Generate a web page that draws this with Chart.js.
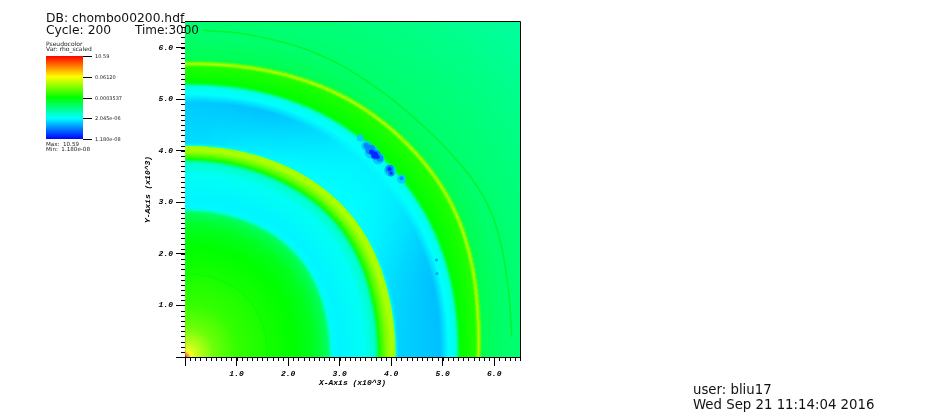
<!DOCTYPE html>
<html>
<head>
<meta charset="utf-8">
<title>chombo00200</title>
<script src="https://cdn.jsdelivr.net/npm/chart.js@4"></script>
<style>
    html, body { margin: 0; padding: 0; background: #fff; }
    #wrap { position: relative; width: 925px; height: 420px; overflow: hidden; }
</style>
</head>
<body>
<div id="wrap"><canvas id="chart" width="925" height="420"></canvas></div>
<script>
// All field values are positions on the legend bar: 0 = min (blue), 1 = max (red)
const axisMax = 6.5;
const legendLabels = ['10.59', '0.06120', '0.0003537', '2.045e-06', '1.180e-08'];

// Fronts, radius (x10^3) at each polar angle
const angles      = [0, 15, 24, 34, 45, 56, 66, 75, 90];
const discEdge    = [2.82, 2.84, 2.89, 2.93, 2.96, 2.93, 2.90, 2.87, 2.85];
const bandInner   = [3.72, 3.75, 3.82, 3.88, 3.92, 3.88, 3.85, 3.82, 3.80];
const bandOuter   = [4.07, 4.10, 4.16, 4.22, 4.25, 4.21, 4.17, 4.12, 4.08];
const shellInner  = [5.28, 5.34, 5.40, 5.43, 5.44, 5.43, 5.39, 5.33, 5.27];
const shellYellow = [5.67, 5.79, 5.93, 5.99, 5.97, 5.94, 5.86, 5.76, 5.67];
const cavityNear  = [0.205, 0.21, 0.22, 0.25, 0.25, 0.25, 0.24, 0.23, 0.21];
const cavityFar   = [0.19, 0.185, 0.19, 0.235, 0.24, 0.235, 0.19, 0.19, 0.20];

// Inner disc profile: fraction of discEdge, value
const discRadius = [0, 0.012, 0.04, 0.09, 0.2, 0.36, 0.555, 0.565, 0.575, 0.75, 0.88, 0.95, 0.985, 1, 1.018];
const discValue  = [0.98, 0.92, 0.74, 0.68, 0.6, 0.55, 0.525, 0.505, 0.52, 0.5, 0.47, 0.43, 0.4, 0.3, 0.245];

// Faint outer ring
const ringX = [6.34, 6.27, 6.08, 5.79, 5.27, 4.49, 3.59, 2.55, 1.26, 0.35];
const ringY = [0.39, 1.36, 2.39, 3.11, 3.82, 4.60, 5.31, 5.89, 6.25, 6.34];

// Turbulent low density patches, pale halo first, dark core last
const patchX     = [3.40, 3.52, 3.62, 3.75, 3.98, 4.20, 3.52, 3.60, 3.70, 3.78, 3.97, 4.00, 4.20, 3.62, 3.68, 3.74, 3.97, 4.00, 4.88, 4.89];
const patchY     = [4.25, 4.10, 3.98, 3.85, 3.62, 3.45, 4.10, 4.02, 3.92, 3.85, 3.65, 3.56, 3.47, 3.98, 3.92, 3.88, 3.65, 3.57, 1.88, 1.62];
const patchValue = [0.20, 0.20, 0.20, 0.20, 0.20, 0.20, 0.13, 0.13, 0.13, 0.13, 0.13, 0.13, 0.13, 0.04, 0.04, 0.04, 0.04, 0.04, 0.15, 0.16];
const patchSize  = [3.5, 5, 7, 6, 6, 4.5, 3, 5, 5, 3.5, 4, 3, 2, 2.5, 3.5, 2, 2, 1.5, 1.5, 1.5];

// blue - cyan - green - yellow - red
function valueColor(t) {
    const c = [[0, 0, 255], [0, 255, 255], [0, 255, 0], [255, 255, 0], [255, 0, 0]];
    const p = Math.min(Math.max(t, 0), 1) * 4;
    const i = Math.min(Math.floor(p), 3);
    const f = p - i;
    const rgb = c[i].map((v, k) => Math.round(v + (c[i + 1][k] - v) * f));
    return 'rgb(' + rgb.join(',') + ')';
}

function readAngle(arr, deg) {
    const d = Math.min(Math.max(deg, 0), 90);
    let i = 0;
    while (i < angles.length - 2 && d > angles[i + 1]) i++;
    const f = (d - angles[i]) / (angles[i + 1] - angles[i]);
    return arr[i] + (arr[i + 1] - arr[i]) * f;
}

// Rounds off the corners between the angles that were read
function atAngle(arr, deg) {
    let sum = 0;
    [-8, -4, 0, 4, 8].forEach(o => { sum += readAngle(arr, deg + o); });
    return sum / 5;
}

// Radial stops [radius, value] along one direction
function profileAt(deg) {
    const disc = atAngle(discEdge, deg);
    const bi = atAngle(bandInner, deg);
    const bo = atAngle(bandOuter, deg);
    const si = atAngle(shellInner, deg);
    const sy = atAngle(shellYellow, deg);
    const near = atAngle(cavityNear, deg);
    const far = atAngle(cavityFar, deg);
    const stops = discRadius.map((r, i) => [r * disc, discValue[i]]);
    return stops.concat([
        [disc + 0.2, 0.24],
        [bi - 0.25, 0.26],
        [bi - 0.05, 0.3],
        [bi, 0.37],
        [bi + 0.04, 0.52],
        [(bi + bo) / 2, 0.62],
        [bo - 0.08, 0.67],
        [bo, 0.66],
        [bo + 0.015, 0.27],
        [bo + 0.07, near],
        [si - 0.34, far],
        [si - 0.18, 0.25],
        [si - 0.05, 0.27],
        [si - 0.01, 0.33],
        [si + 0.01, 0.42],
        [si + 0.05, 0.5],
        [sy - 0.06, 0.53],
        [sy - 0.03, 0.6],
        [sy, 0.68],
        [sy + 0.03, 0.6],
        [sy + 0.07, 0.42],
        [sy + 0.5, 0.395],
        [9.4, 0.34]
    ]);
}

// Draws the pseudocolor field in 1 degree wedges, radii come from the chart scales
const fieldPlugin = {
    id: 'field',
    beforeDatasetsDraw(chart) {
        const ctx = chart.ctx;
        const a = chart.chartArea;
        const ox = chart.scales.x.getPixelForValue(0);
        const oy = chart.scales.y.getPixelForValue(0);
        const outer = chart.scales.x.getPixelForValue(9.4) - ox;
        ctx.save();
        ctx.beginPath();
        ctx.rect(a.left, a.top, a.width, a.height);
        ctx.clip();
        for (let deg = 0; deg < 90; deg++) {
            const grad = ctx.createRadialGradient(ox, oy, 0, ox, oy, outer);
            profileAt(deg + 0.5).forEach(s => {
                grad.addColorStop(Math.min(s[0] / 9.4, 1), valueColor(s[1]));
            });
            ctx.fillStyle = grad;
            ctx.beginPath();
            ctx.moveTo(ox, oy);
            ctx.arc(ox, oy, outer, -(deg - 0.4) * Math.PI / 180, -(deg + 1.4) * Math.PI / 180, true);
            ctx.closePath();
            ctx.fill();
        }
        ctx.restore();
    }
};

function drawText(ctx, text, x, y, font) {
    ctx.font = font;
    ctx.fillText(text, x, y);
}

const framePlugin = {
    id: 'frame',
    afterDraw(chart) {
        const ctx = chart.ctx;
        const a = chart.chartArea;
        ctx.save();
        ctx.strokeStyle = '#000';
        ctx.lineWidth = 1;

        // frame top and right
        ctx.beginPath();
        ctx.moveTo(a.left, a.top - 0.5);
        ctx.lineTo(a.right + 0.5, a.top - 0.5);
        ctx.lineTo(a.right + 0.5, a.bottom);
        ctx.stroke();

        // minor ticks
        ctx.beginPath();
        chart.scales.x.ticks.forEach(t => {
            const px = Math.round(chart.scales.x.getPixelForValue(t.value)) + 0.5;
            ctx.moveTo(px, a.bottom);
            ctx.lineTo(px, a.bottom + 4);
        });
        chart.scales.y.ticks.forEach(t => {
            const py = Math.round(chart.scales.y.getPixelForValue(t.value)) + 0.5;
            ctx.moveTo(a.left, py);
            ctx.lineTo(a.left - 4, py);
        });
        ctx.stroke();

        // legend bar
        const grad = ctx.createLinearGradient(0, 139, 0, 56);
        for (let i = 0; i <= 4; i++) grad.addColorStop(i / 4, valueColor(i / 4));
        ctx.fillStyle = grad;
        ctx.fillRect(46, 56, 37, 83);
        ctx.beginPath();
        [56, 76.5, 97.5, 118, 139].forEach(y => {
            ctx.moveTo(83, Math.round(y) + 0.5);
            ctx.lineTo(92, Math.round(y) + 0.5);
        });
        ctx.stroke();

        ctx.fillStyle = '#222';
        ctx.textAlign = 'left';
        ctx.textBaseline = 'alphabetic';
        const small = '6px "DejaVu Sans"';
        const tiny = '5px "DejaVu Sans"';
        drawText(ctx, 'Pseudocolor', 46, 46, small);
        drawText(ctx, 'Var: rho_scaled', 46, 51, small);
        [58, 79, 99.5, 120, 141].forEach((y, i) => drawText(ctx, legendLabels[i], 95, y, tiny));
        drawText(ctx, 'Max:  10.59', 46, 146, '5.6px "DejaVu Sans"');
        drawText(ctx, 'Min:  1.180e-08', 46, 151, '5.6px "DejaVu Sans"');

        ctx.fillStyle = '#111';
        const big = '12.3px "DejaVu Sans"';
        const foot = '13.3px "DejaVu Sans"';
        drawText(ctx, 'DB: chombo00200.hdf', 46, 22, big);
        drawText(ctx, 'Cycle: 200', 46, 34, big);
        drawText(ctx, 'Time:3000', 135, 34, '12px "DejaVu Sans"');
        drawText(ctx, 'user: bliu17', 693, 394, foot);
        drawText(ctx, 'Wed Sep 21 11:14:04 2016', 693, 409, foot);
        ctx.restore();
    }
};

function isMajor(v) {
    return Math.abs(v - Math.round(v)) < 1e-6;
}

function axisOptions(titleText, fitSize) {
    return {
        type: 'linear',
        min: 0,
        max: axisMax,
        afterFit(scale) {
            if (scale.isHorizontal()) scale.height = fitSize;
            else scale.width = fitSize;
        },
        border: { color: '#000', width: 1 },
        grid: {
            drawOnChartArea: false,
            tickLength: 9,
            tickWidth: 1,
            tickColor: c => (isMajor(c.tick.value) ? '#000' : 'rgba(0,0,0,0)')
        },
        ticks: {
            stepSize: 0.1,
            autoSkip: false,
            maxRotation: 0,
            padding: 3,
            color: '#000',
            font: { family: '"Liberation Mono"', size: 8, weight: 'bold', style: 'italic' },
            callback: v => (isMajor(v) && v > 0.5 ? Number(v).toFixed(1) : '')
        },
        title: {
            display: true,
            text: titleText,
            color: '#000',
            padding: 0,
            font: { family: '"Liberation Mono"', size: 8, weight: 'bold', style: 'italic' }
        }
    };
}

new Chart(document.getElementById('chart'), {
    type: 'scatter',
    data: {
        datasets: [
            {
                label: 'ring',
                showLine: true,
                tension: 0.4,
                data: ringX.map((x, i) => ({ x: x, y: ringY[i] })),
                borderColor: 'rgb(0,245,50)',
                borderWidth: 1.6,
                pointRadius: 0
            },
            {
                label: 'patches',
                data: patchX.map((x, i) => ({ x: x, y: patchY[i] })),
                pointRadius: patchSize,
                pointBackgroundColor: patchValue.map(valueColor),
                pointBorderWidth: 0
            }
        ]
    },
    options: {
        responsive: false,
        animation: false,
        layout: { padding: { left: 143, right: 405, top: 22, bottom: 32 } },
        plugins: { legend: { display: false }, tooltip: { enabled: false } },
        scales: {
            x: axisOptions('X-Axis (x10^3)', 31),
            y: axisOptions('Y-Axis (x10^3)', 42)
        }
    },
    plugins: [fieldPlugin, framePlugin]
});
</script>
</body>
</html>
